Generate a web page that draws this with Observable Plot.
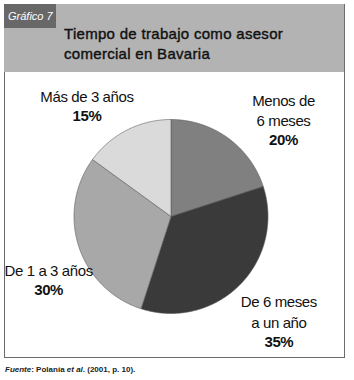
<!DOCTYPE html>
<html><head><meta charset="utf-8">
<script src="https://cdn.jsdelivr.net/npm/d3@7"></script>
<script src="https://cdn.jsdelivr.net/npm/@observablehq/plot@0.6"></script>
<style>
body{margin:0;background:#fff;font-family:"Liberation Sans",Arial,sans-serif;}
#wrap{position:relative;width:354px;height:380px;overflow:hidden;}
#frame{position:absolute;left:4px;top:4px;width:338.5px;height:352.5px;border:1.5px solid #6b6b6b;border-top:none;}
#header{position:absolute;left:4px;top:4px;width:340px;height:68px;background:#b3b3b3;}
#tag{position:absolute;left:0;top:0;width:52px;height:24px;background:#686868;color:#fff;font-style:italic;font-size:11px;line-height:24px;padding-left:4px;box-sizing:border-box;}
#title{position:absolute;left:60px;top:20px;font-size:15px;line-height:20px;color:#111;letter-spacing:0.3px;white-space:nowrap;-webkit-text-stroke:0.4px #111;}
#chart{position:absolute;left:0;top:72px;}
#chart svg text{letter-spacing:-0.4px;}
#foot{position:absolute;left:5px;top:365px;font-size:8px;font-weight:bold;color:#222;white-space:nowrap;}
</style></head>
<body>
<div id="wrap">
  <div id="frame"></div>
  <div id="header">
    <div id="tag">Gráfico 7</div>
    <div id="title">Tiempo de trabajo como asesor<br>comercial en Bavaria</div>
  </div>
  <div id="chart"></div>
  <div id="foot"><i>Fuente</i>: Polanía <i>et al</i>. (2001, p. 10).</div>
</div>
<script>
const categories = ["Menos de 6 meses", "De 6 meses a un año", "De 1 a 3 años", "Más de 3 años"];
const labelLines = [["Menos de", "6 meses"], ["De 6 meses", "a un año"], ["De 1 a 3 años"], ["Más de 3 años"]];
const shares = [20, 35, 30, 15];
const pctLabels = ["20%", "35%", "30%", "15%"];
const sliceColors = ["#808080", "#3a3a3a", "#a8a8a8", "#dadada"];

const W = 354, H = 285, K = 97, CX = 170.5, CY = 144, L = 20.5, FS = 15;
const nudges = [[27, 21], [5, 2], [16, 18], [-18, 19]];

const pie = d3.pie().sort(null).value(d => d)(shares);
const pts = [];
pie.forEach((p, i) => {
  pts.push({k: i, x: 0, y: 0, c: sliceColors[i]});
  const n = Math.ceil((p.endAngle - p.startAngle) / (Math.PI / 360));
  for (let j = 0; j <= n; j++) {
    const a = p.startAngle + (p.endAngle - p.startAngle) * j / n;
    pts.push({k: i, x: Math.sin(a), y: Math.cos(a), c: sliceColors[i]});
  }
  pts.push({k: i, x: 0, y: 0, c: sliceColors[i]});
});

const labels = pie.map((p, i) => {
  const mid = (p.startAngle + p.endAngle) / 2;
  const bx = 1.5 * Math.sin(mid) + nudges[i][0] / K;
  const by = 1.5 * Math.cos(mid) - nudges[i][1] / K;
  const k = labelLines[i].length;
  return {
    name: labelLines[i].join("\n"),
    pct: pctLabels[i],
    nx: bx, ny: by + (L / 2) / K,
    px: bx, py: by - (k * L / 2) / K
  };
});

const chart = Plot.plot({
  width: W, height: H, margin: 0,
  x: {domain: [-CX / K, (W - CX) / K], axis: null},
  y: {domain: [-(H - CY) / K, CY / K], axis: null},
  color: {type: "identity"},
  style: {fontFamily: "'Liberation Sans', Arial, sans-serif", background: "transparent", overflow: "visible"},
  marks: [
    Plot.line(pts, {x: "x", y: "y", z: "k", fill: "c", stroke: "#5a5a5a", strokeWidth: 0.6}),
    Plot.text(labels, {x: "nx", y: "ny", text: "name", fontSize: FS, lineHeight: L / FS, lineAnchor: "middle", fill: "#111"}),
    Plot.text(labels, {x: "px", y: "py", text: "pct", fontSize: FS, fontWeight: "bold", lineAnchor: "middle", fill: "#111"})
  ]
});
document.getElementById("chart").appendChild(chart);
</script>
</body></html>
